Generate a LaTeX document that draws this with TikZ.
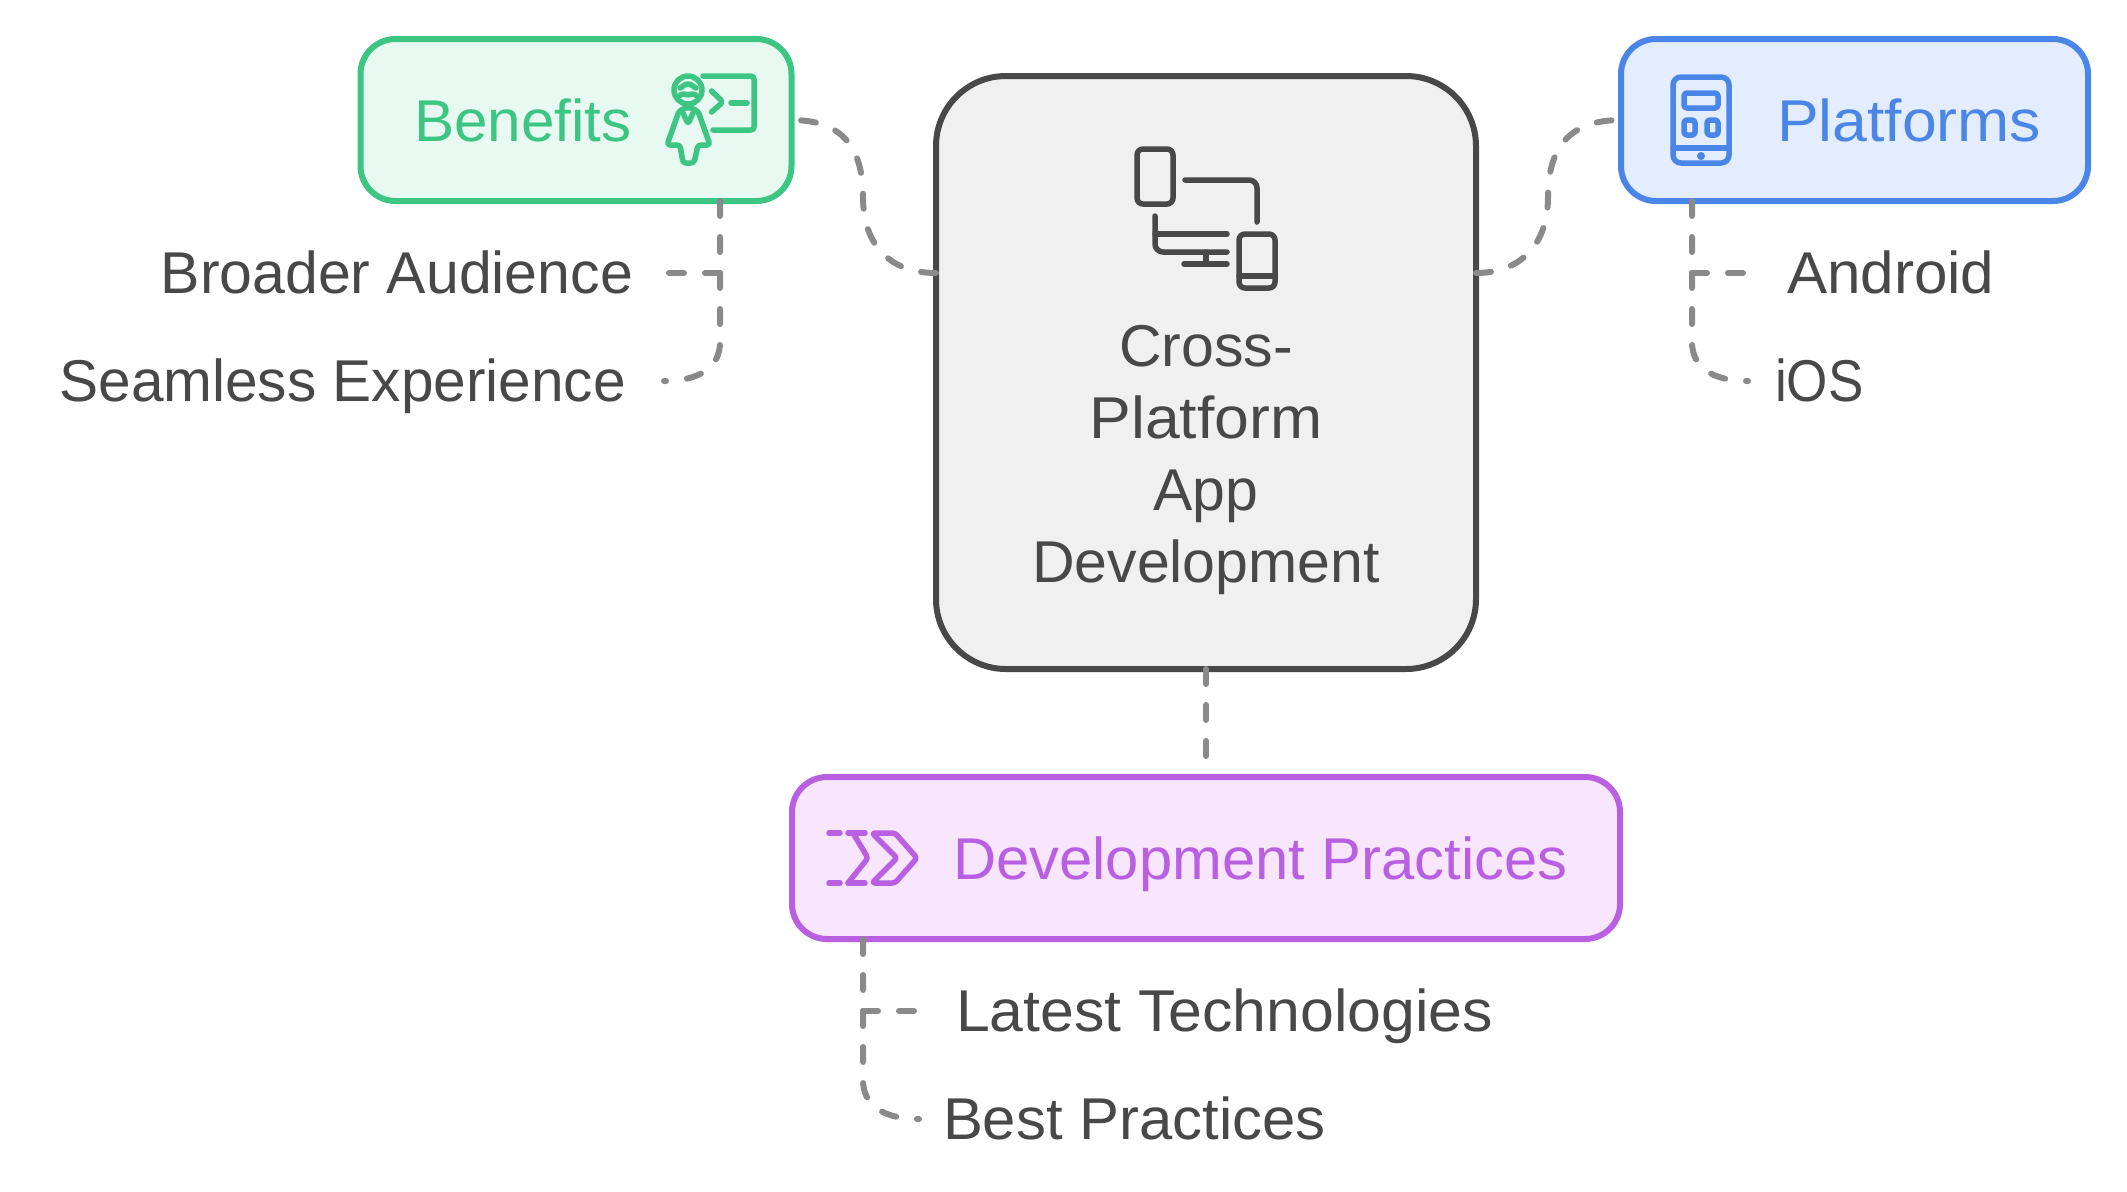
\documentclass[tikz,border=0pt]{standalone}
\usepackage{fontspec}
\setmainfont{Liberation Sans}
\usetikzlibrary{calc,positioning}
\definecolor{inkgray}{HTML}{484848}
\definecolor{linkgray}{HTML}{8A8A8A}
\definecolor{coregray}{HTML}{F0F0F0}
\definecolor{bengreen}{HTML}{3CC583}
\definecolor{benfill}{HTML}{E8F9F1}
\definecolor{platblue}{HTML}{4A85E8}
\definecolor{platfill}{HTML}{E4EDFF}
\definecolor{devpurple}{HTML}{B960E2}
\definecolor{devfill}{HTML}{F7E6FD}
\tikzset{%
  txt/.style={inner sep=0pt,outer sep=0pt,font=\fontsize{29.5}{36}\selectfont,text=inkgray},
  box/.style={txt,draw,line width=3pt,rounded corners=17.5pt,anchor=north west},
  leaf/.style={txt,anchor=base west},
  wide/.style={xscale=#1,transform shape},
  link/.style={draw=linkgray,line width=3pt,line cap=round,dash pattern=on 7.5pt off 10.5pt},
  icon/.style={line width=2.75pt,line cap=round,line join=round,rounded corners=1.5pt}
}
\begin{document}
\begin{tikzpicture}[x=0.5pt,y=-0.5pt]
  \useasboundingbox (0,0) rectangle (2127,1191);
  % main boxes
  \node[box,draw=inkgray,fill=coregray,rounded corners=35pt,minimum width=270pt,minimum height=296.5pt] (core) at (936,76) {};
  \node[txt,align=center] (coretext) at (1206,460) {Cross-\\\scalebox{1.06}[1]{Platform}\\App\\Development};
  \node[box,draw=bengreen,fill=benfill,minimum width=215.5pt,minimum height=81pt] (benefits) at (360.5,39) {};
  \node[box,draw=platblue,fill=platfill,minimum width=233.5pt,minimum height=81pt] (platforms) at (1621,39) {};
  \node[box,draw=devpurple,fill=devfill,minimum width=414pt,minimum height=81pt] (practices) at (792,777) {};
  \node[leaf,wide=1.02,text=bengreen] (benefitstext) at (414,141) {Benefits};
  \node[leaf,wide=1.06,text=platblue] (platformstext) at (1777,141) {Platforms};
  \node[leaf,wide=1.013,text=devpurple] (practicestext) at (953,879) {Development Practices};
  % leaves
  \node[txt,anchor=base east] (broader) at (633,293) {Broader Audience};
  \node[txt,anchor=base east,wide=.993] (seamless) at (626,401) {Seamless Experience};
  \node[leaf,wide=1.02] (android) at (1787,293) {Android};
  \node[leaf,wide=.9] (ios) at (1775,401) {iOS};
  \node[leaf,wide=1.03] (latest) at (956,1031) {Latest Technologies};
  \node[leaf,wide=1.015] (best) at (943,1139) {Best Practices};
  \coordinate (broaderend) at (666,273);
  \coordinate (seamlessend) at (664,381);
  \coordinate (androidend) at (1746,273);
  \coordinate (iosend) at (1748,381);
  \coordinate (latestend) at (917,1011);
  \coordinate (bestend) at (919,1119);
  \coordinate (bentrunk) at (720,201);
  \coordinate (plattrunk) at (1692,201);
  \coordinate (devtrunk) at (863,939);
  % connectors
  \draw[link] (core.west |- broaderend) .. controls (890,273) and (863,245) .. (863,197)
    .. controls (863,145) and (840,120) .. (benefits.east);
  \draw[link] (core.east |- androidend) .. controls (1520,273) and (1548,245) .. (1548,197)
    .. controls (1548,145) and (1572,120) .. (platforms.west);
  \draw[link,shorten >=3pt] (core.south) -- (practices.north -| core.south);
  \draw[link] (bentrunk |- broaderend) -- (broaderend);
  \draw[link] (bentrunk) -- (720,342) .. controls (720,367) and (700,381) .. (seamlessend);
  \draw[link] (plattrunk |- androidend) -- (androidend);
  \draw[link] (plattrunk) -- (1692,342) .. controls (1692,367) and (1712,381) .. (iosend);
  \draw[link] (devtrunk |- latestend) -- (latestend);
  \draw[link] (devtrunk) -- (863,1080) .. controls (863,1105) and (883,1119) .. (bestend);
  % devices
  \begin{scope}[icon,draw=inkgray]
    \draw[rounded corners=3pt] (1137,149) rectangle (1173,204);
    \draw[rounded corners=4pt] (1185,180) -- (1257,180) -- (1257,222);
    \draw[rounded corners=4pt] (1155,216) -- (1155,252) -- (1227,252);
    \draw (1155,234) -- (1227,234);
    \draw (1206,252) -- (1206,264);
    \draw (1184,264) -- (1227,264);
    \draw[rounded corners=3pt] (1239,234) rectangle (1275,288);
    \draw (1239,276) -- (1275,276);
  \end{scope}
  % teacher
  \begin{scope}[icon,draw=bengreen]
    \draw (688,90) circle (14);
    \draw (680,88) -- (688,83) -- (696,88);
    \draw (677,97) -- (684,93) -- (688,96) -- (692,93) -- (699,97);
    \draw (703,76) -- (754,76) -- (754,130) -- (713,130);
    \draw (711.5,91) -- (723,102) -- (711.5,112);
    \draw (731,103) -- (747,103);
    \draw (679,111) -- (688,107) -- (698,111) -- (710,145) -- (698,145) -- (694,163) -- (683,163) -- (680,145) -- (667,145) -- cycle;
    \draw (683,113) -- (688,124) -- (693,113);
  \end{scope}
  % phone
  \begin{scope}[icon,draw=platblue]
    \draw[rounded corners=4pt] (1673,77) rectangle (1729,163);
    \draw (1673,148) -- (1729,148);
    \fill[platblue] (1701,156) circle (4);
    \draw (1684,93) rectangle (1718,108);
    \draw (1684,120) rectangle (1695,135);
    \draw (1707,120) rectangle (1718,135);
  \end{scope}
  % chevrons
  \begin{scope}[icon,draw=devpurple]
    \draw (829,833) -- (840,833);
    \draw (829,883) -- (840,883);
    \draw (848,833) -- (865,833);
    \draw (848,883) -- (865,883);
    \draw (853,833) -- (868,858) -- (848,883);
    \draw (872,833) -- (895,833) -- (917,858) -- (895,883) -- (872,883) -- (897,858) -- cycle;
  \end{scope}
\end{tikzpicture}
\end{document}
